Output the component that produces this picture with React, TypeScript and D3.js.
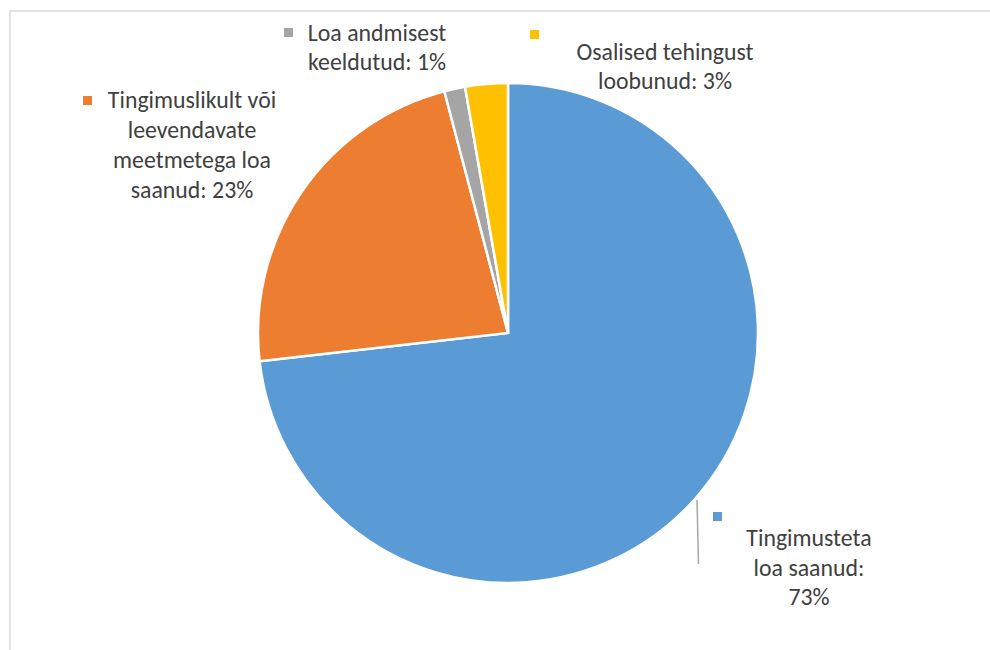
import React from "react";
import * as d3 from "d3";

const categories = [
  "Tingimusteta loa saanud",
  "Tingimuslikult või leevendavate meetmetega loa saanud",
  "Loa andmisest keeldutud",
  "Osalised tehingust loobunud",
];
const values = [73.2, 22.7, 1.35, 2.75];
const colors = ["#5B9BD5", "#ED7D31", "#A5A5A5", "#FFC000"];
// label line wrapping (text split into lines, last line gets ": NN%")
const labelLines = [
  ["Tingimusteta", "loa saanud:"],
  ["Tingimuslikult või", "leevendavate", "meetmetega loa", "saanud:"],
  ["Loa andmisest", "keeldutud:"],
  ["Osalised tehingust", "loobunud:"],
];

const W = 990;
const H = 650;
const cx = 508;
const cy = 333;
const R = 250;

const layout = [
  { x: 809, y: 538, lh: 29.5, mx: 713, my: 512, pctOwnLine: true },
  { x: 192, y: 100, lh: 30, mx: 83, my: 96, pctOwnLine: false },
  { x: 377, y: 33, lh: 29, mx: 284, my: 28, pctOwnLine: false },
  { x: 665, y: 52, lh: 28.5, mx: 530, my: 30, pctOwnLine: false },
];

export default function App() {
  const total = d3.sum(values);
  const pie = d3.pie<number>().sort(null).value((d) => d);
  const arcs = pie(values);
  const arc = d3.arc<d3.PieArcDatum<number>>().innerRadius(0).outerRadius(R);

  return (
    <svg
      width={W}
      height={H}
      style={{ position: "absolute", left: 0, top: 0, background: "#fff" }}
      fontFamily="Carlito, Calibri, 'Open Sans', sans-serif"
    >
      <rect x={10} y={11} width={W + 20} height={H + 20} fill="#fff" stroke="#D9D9D9" strokeWidth={1.5} />
      <g transform={`translate(${cx},${cy})`}>
        {arcs.map((a, i) => (
          <path key={i} d={arc(a) || ""} fill={colors[i]} stroke="#fff" strokeWidth={2.5} strokeLinejoin="miter" />
        ))}
      </g>
      {/* leader line for the blue slice */}
      <line x1={697} y1={500} x2={698.5} y2={564} stroke="#A6A6A6" strokeWidth={1.5} />
      {categories.map((c, i) => {
        const L = layout[i];
        const pct = Math.round((values[i] / total) * 100) + "%";
        const lines = [...labelLines[i]];
        if (L.pctOwnLine) lines.push(pct);
        else lines[lines.length - 1] = lines[lines.length - 1] + " " + pct;
        return (
          <g key={c}>
            <rect x={L.mx} y={L.my} width={9} height={9} fill={colors[i]} />
            <text textAnchor="middle" fill="#404040" fontSize={23.8}>
              {lines.map((t, j) => (
                <tspan key={j} x={L.x} y={L.y + j * L.lh} dy="0.35em">
                  {t}
                </tspan>
              ))}
            </text>
          </g>
        );
      })}
    </svg>
  );
}
